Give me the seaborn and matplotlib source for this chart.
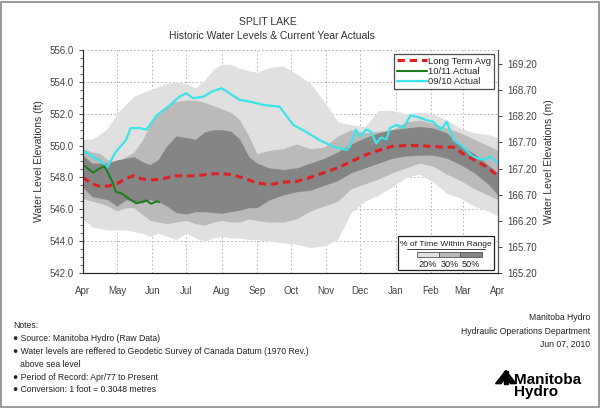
import numpy as np
import pandas as pd
import matplotlib
matplotlib.use('Agg')
import matplotlib.pyplot as plt
from matplotlib.patches import Rectangle, Polygon
from matplotlib.lines import Line2D
import seaborn as sns

# days since Apr 1
month_days = [0, 30, 61, 91, 122, 153, 183, 214, 244, 275, 306, 334, 365]
month_labels = ['Apr', 'May', 'Jun', 'Jul', 'Aug', 'Sep', 'Oct', 'Nov', 'Dec', 'Jan', 'Feb', 'Mar', 'Apr']

band_days = [0, 8, 15, 22, 30, 38, 45, 52, 59, 66, 74, 82, 91, 99, 107, 115, 122, 130, 138, 146,
             153, 164, 176, 188, 200, 212, 224, 236, 248, 260, 272, 284, 296, 308, 320, 332, 344, 356, 365]
outer_hi = [550.4, 550.4, 550.7, 551.1, 552.0, 552.6, 553.1, 553.3, 553.5, 553.7, 553.9, 554.0, 553.9, 553.6,
            554.1, 554.8, 555.1, 555.1, 554.85, 554.7, 554.6, 554.9, 555.0, 554.5, 553.9, 552.8, 551.5, 551.3,
            551.2, 552.2, 552.2, 552.0, 552.1, 552.0, 551.6, 551.1, 550.8, 550.7, 550.5]
mid_hi = [549.8, 549.6, 549.5, 549.1, 549.0, 549.3, 549.6, 550.3, 551.3, 552.0, 552.5, 552.76, 552.85, 552.85,
          552.7, 552.5, 552.3, 552.1, 551.6, 550.6, 549.5, 549.7, 549.8, 550.1, 549.8, 549.9, 550.6, 551.0,
          550.8, 550.9, 551.0, 551.5, 551.6, 551.4, 551.1, 550.8, 550.4, 550.0, 549.7]
in_hi = [549.4, 548.9, 548.9, 548.9, 549.1, 549.2, 549.3, 549.0, 548.8, 549.1, 550.0, 550.6, 550.5, 550.4,
         550.85, 551.0, 551.0, 550.9, 550.4, 549.3, 548.9, 548.6, 548.5, 548.6, 548.9, 549.2, 549.6, 550.1,
         550.5, 550.8, 551.0, 551.1, 551.2, 551.1, 550.8, 550.0, 549.5, 548.8, 548.3]
in_lo = [547.4, 546.8, 546.7, 546.6, 546.2, 546.6, 546.5, 546.4, 546.6, 546.5, 546.2, 545.8, 545.7, 545.85,
         545.85, 545.8, 545.75, 545.85, 545.95, 546.1, 546.1, 546.6, 546.9, 547.1, 547.2, 547.5, 547.8, 548.3,
         548.6, 548.9, 549.2, 549.35, 549.4, 549.4, 549.2, 548.8, 548.3, 547.6, 546.9]
mid_lo = [546.7, 546.5, 546.4, 546.2, 545.9, 546.1, 546.1, 545.7, 545.3, 545.2, 545.1, 545.2, 545.3, 545.1,
          545.0, 545.2, 545.3, 545.2, 545.2, 545.4, 545.3, 545.2, 545.2, 545.4, 545.9, 546.2, 546.5, 547.3,
          547.6, 547.9, 548.3, 548.6, 548.9, 548.7, 548.2, 547.8, 547.3, 546.9, 546.6]
outer_lo = [545.4, 544.9, 544.8, 544.7, 544.7, 544.7, 544.6, 544.5, 544.3, 544.5, 544.3, 544.1, 544.5, 544.2,
            544.0, 544.2, 544.3, 544.2, 544.2, 544.1, 544.1, 544.0, 543.9, 543.8, 543.6, 543.7, 544.1, 545.8,
            546.5, 546.9, 547.4, 548.0, 548.2, 547.7, 547.0, 546.7, 546.2, 545.9, 545.6]

avg_days = [0, 8, 15, 22, 30, 38, 45, 52, 61, 70, 80, 91, 100, 110, 122, 132, 142, 153, 165, 176, 188,
            200, 212, 224, 236, 248, 260, 272, 284, 296, 306, 316, 326, 334, 344, 354, 365]
avg_level = [548.0, 547.6, 547.45, 547.45, 547.6, 547.95, 548.1, 547.9, 547.85, 547.9, 548.1, 548.1, 548.1,
             548.2, 548.25, 548.15, 547.95, 547.65, 547.55, 547.7, 547.75, 548.0, 548.3, 548.6, 549.0, 549.4,
             549.7, 549.95, 550.0, 550.0, 549.95, 549.9, 549.9, 549.5, 549.1, 548.7, 548.1]

cur_days = [0, 6, 9, 15, 19, 22, 26, 29, 34, 38, 42, 47, 51, 56, 60, 65, 67]
cur_level = [548.8, 548.47, 548.3, 548.57, 548.7, 548.3, 547.73, 547.1, 547.0, 546.8, 546.6, 546.38, 546.45,
             546.55, 546.35, 546.5, 546.45]

prev_days = [0, 9, 18, 21, 29, 38, 42, 50, 56, 65, 76, 85, 91, 97, 106, 114, 122, 129, 138, 147, 159, 173,
             185, 196, 208, 220, 232, 235, 240, 244, 249, 253, 258, 262, 267, 270, 276, 282, 288, 294, 302,
             308, 315, 320, 326, 334, 343, 352, 358, 365]
prev_level = [549.7, 549.3, 548.9, 548.6, 549.6, 550.35, 551.1, 551.1, 551.0, 551.9, 552.5, 553.07, 553.28,
              552.97, 553.07, 553.4, 553.6, 553.28, 552.86, 552.76, 552.55, 552.44, 551.3, 550.87, 550.35,
              549.93, 549.72, 549.97, 551.0, 550.56, 551.0, 550.9, 550.14, 550.5, 550.4, 551.1, 551.3, 551.1,
              551.9, 551.8, 551.6, 551.5, 551.0, 551.5, 550.35, 549.93, 549.3, 549.1, 549.3, 548.9]

light_c, mid_c, dark_c = '#e0e0e0', '#bababa', '#858585'

sns.set_style('white')
plt.rcParams['font.family'] = ['Liberation Sans', 'DejaVu Sans']

fig = plt.figure(figsize=(6, 4.09), dpi=100)
ax = fig.add_axes([0.138, 0.3325, 0.692, 0.5453])

ax.fill_between(band_days, outer_lo, outer_hi, color=light_c, lw=0, zorder=1)
ax.fill_between(band_days, mid_lo, mid_hi, color=mid_c, lw=0, zorder=2)
ax.fill_between(band_days, in_lo, in_hi, color=dark_c, lw=0, zorder=3)

sns.lineplot(x=avg_days, y=avg_level, ax=ax, color='#dd2020', lw=2.2,
             linestyle=(0, (2.4, 1.6)), zorder=6, label='Long Term Avg')
sns.lineplot(x=cur_days, y=cur_level, ax=ax, color='#1d7d1d', lw=1.5, zorder=5, label='10/11 Actual')
sns.lineplot(x=prev_days, y=prev_level, ax=ax, color='#3de3ea', lw=1.6, zorder=4, label='09/10 Actual')

ax.set_xlim(0, 365)
ax.set_ylim(542, 556)
ax.set_xticks(month_days)
ax.set_xticklabels(month_labels)
ax.set_yticks(np.arange(542, 556.1, 2))
ax.set_yticks(np.arange(542, 556.1, 0.5), minor=True)
ax.yaxis.set_major_formatter(matplotlib.ticker.FormatStrFormatter('%.1f'))
ax.grid(True, which='major', color='#b0b0b0', ls=(0, (1.5, 2.5)), lw=0.7)
for g in ax.get_xgridlines() + ax.get_ygridlines():
    g.set_zorder(0.5)
ax.tick_params(axis='both', labelsize=7, colors='#444444', length=3, width=0.7, direction='out')
ax.tick_params(axis='y', which='minor', length=2, width=0.6, color='#444444')
ax.tick_params(axis='x', pad=6)
ax.spines['top'].set_visible(False)
for s in ['left', 'bottom', 'right']:
    ax.spines[s].set_color('#555555')
    ax.spines[s].set_linewidth(0.8)
ax.set_ylabel('Water Level Elevations (ft)', fontsize=7.5, color='#333333', labelpad=4)
ax.set_xlabel('')

leg = ax.legend(loc='upper right', fontsize=6.8, frameon=True, fancybox=False, edgecolor='#222222',
                handlelength=3.2, handletextpad=0.1, borderpad=0.3, labelspacing=0.15,
                borderaxespad=0.4)
leg.get_frame().set_linewidth(0.9)
leg.set_zorder(10)

# percent-of-time box
box = Rectangle((0.759, 0.012), 0.232, 0.153, transform=ax.transAxes, facecolor='white',
                edgecolor='#222222', lw=0.9, zorder=9)
ax.add_patch(box)
ax.text(0.875, 0.128, '% of Time Within Range', transform=ax.transAxes, ha='center', va='center',
        fontsize=6.1, color='#222222', zorder=11)
ax.add_line(Line2D([0.782, 0.968], [0.106, 0.106], transform=ax.transAxes, color='#222222', lw=0.6, zorder=11))
for i, (c, t) in enumerate(zip([light_c, mid_c, dark_c], ['20%', '30%', '50%'])):
    x0 = 0.805 + i * 0.052
    ax.add_patch(Rectangle((x0, 0.07), 0.052, 0.022, transform=ax.transAxes, facecolor=c,
                           edgecolor='#555555', lw=0.6, zorder=11))
    ax.text(x0 + 0.026, 0.038, t, transform=ax.transAxes, ha='center', va='center', fontsize=6.6,
            color='#222222', zorder=11)

ax2 = ax.twinx()
ax2.set_ylim(542 * 0.3048, 556 * 0.3048)
ax2.set_yticks(np.arange(165.2, 169.21, 0.5))
ax2.yaxis.set_major_formatter(matplotlib.ticker.FormatStrFormatter('%.2f'))
ax2.tick_params(axis='y', labelsize=7, colors='#444444', length=3, width=0.7)
ax2.spines['top'].set_visible(False)
ax2.spines['right'].set_color('#555555')
ax2.set_ylabel('Water Level Elevations (m)', fontsize=7.5, color='#333333', labelpad=5)

fig.text(0.447, 0.945, 'SPLIT LAKE', ha='center', va='center', fontsize=7.5, color='#333333')
fig.text(0.453, 0.913, 'Historic Water Levels & Current Year Actuals', ha='center', va='center',
         fontsize=7.5, color='#333333')

notes = ['Notes:',
         '\u25cf Source: Manitoba Hydro (Raw Data)',
         '\u25cf Water levels are reffered to Geodetic Survey of Canada Datum (1970 Rev.)',
         '   above sea level',
         '\u25cf Period of Record: Apr/77 to Present',
         '\u25cf Conversion: 1 foot = 0.3048 metres']
for i, n in enumerate(notes):
    fig.text(0.022, 1 - (326 + i * 12.8) / 409, n, ha='left', va='center', fontsize=6.2, color='#222222')

right_txt = ['Manitoba Hydro', 'Hydraulic Operations Department', 'Jun 07, 2010']
for i, n in enumerate(right_txt):
    fig.text(0.983, 1 - (318 + i * 13) / 409, n, ha='right', va='center', fontsize=6.2, color='#222222')

# logo
fig.text(0.857, 1 - 386 / 409, 'Manitoba\nHydro', ha='left', va='center', fontsize=11,
         fontweight='bold', color='black', linespacing=0.8)
fig.patches.append(Polygon([[0.826, 0.062], [0.843, 0.094], [0.860, 0.062], [0.851, 0.062],
                            [0.843, 0.076], [0.835, 0.062]], closed=True,
                           transform=fig.transFigure, color='black'))
fig.patches.append(Rectangle((0.840, 0.060), 0.006, 0.034, transform=fig.transFigure, color='black'))

fig.patches.append(Rectangle((0.002, 0.004), 0.996, 0.992, transform=fig.transFigure, fill=False,
                             edgecolor='#888888', lw=1.2))

fig.savefig('out.png', dpi=100)
